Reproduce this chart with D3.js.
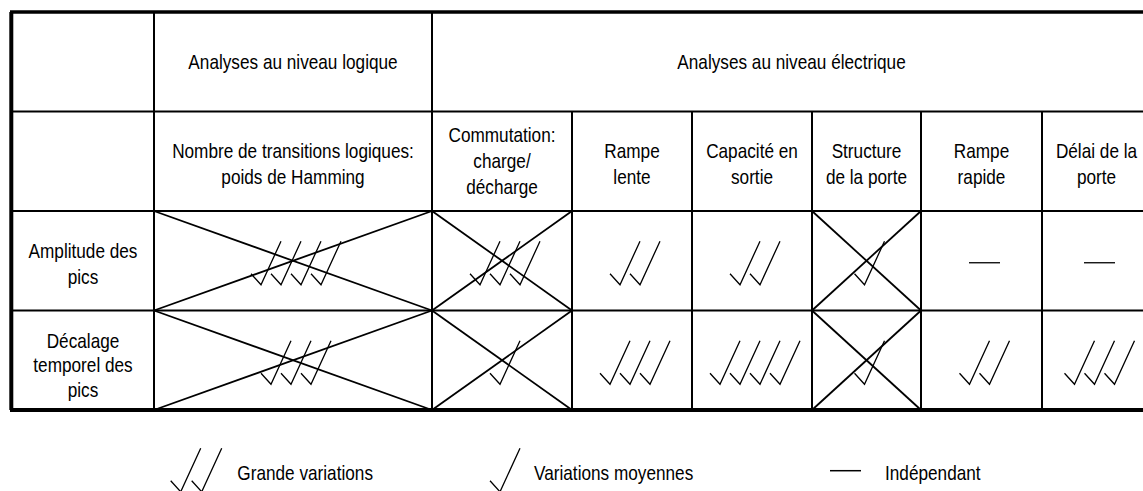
<!DOCTYPE html>
<html><head><meta charset="utf-8">
<script src="https://cdn.jsdelivr.net/npm/d3@7"></script>
<style>html,body{margin:0;padding:0;background:#fff;overflow:hidden}</style>
</head><body><svg id="c" width="1143" height="491"></svg>
<script>
// ---------- data ----------
const groupLabels = ["Analyses au niveau logique", "Analyses au niveau électrique"];
const columnLabels = [
  "Nombre de transitions logiques:\npoids de Hamming",
  "Commutation:\ncharge/\ndécharge",
  "Rampe\nlente",
  "Capacité en\nsortie",
  "Structure\nde la porte",
  "Rampe\nrapide",
  "Délai de la\nporte"
];
const columnGroup = [0, 1, 1, 1, 1, 1, 1];
const rowLabels = ["Amplitude des\npics", "Décalage\ntemporel des\npics"];
// number of check marks per cell (0 = independent, drawn as a dash)
const amplitudeChecks = [4, 3, 2, 2, 1, 0, 0];
const decalageChecks  = [3, 1, 3, 4, 1, 2, 3];
const crossedOut      = [true, true, false, false, true, false, false];
const legendLabels = ["Grande variations", "Variations moyennes", "Indépendant"];
const legendChecks = [2, 1, 0];

// ---------- layout ----------
const W = 1143, H = 491;
const colWidths = [278, 140, 120, 120, 109, 121, 109];
const tableLeft = 12, firstColRight = 154, tableRight = 1151, tableTop = 12, tableBottom = 410;
const FS = 20, SX = 0.86;

const svg = d3.select("#c");
svg.append("rect").attr("width", W).attr("height", H).attr("fill", "#fff");

const edges = d3.cumsum([0, ...colWidths]);
const x = d3.scaleLinear().domain([0, edges[edges.length - 1]]).range([firstColRight, tableRight]);
const colX0 = i => x(edges[i]);
const colX1 = i => x(edges[i + 1]);
const colCx = i => (colX0(i) + colX1(i)) / 2;

const y = d3.scaleBand().domain(["group", "column", ...rowLabels]).range([tableTop, tableBottom]).padding(0);
const bw = y.bandwidth();

const cellValues = [amplitudeChecks, decalageChecks];

function label(g, text, cx, cy, lh, off, anchor) {
  const lines = text.split("\n");
  const n = lines.length;
  const grp = g.append("g");
  lines.forEach((t, i) => {
    const by = cy + off + (i - (n - 1) / 2) * lh;
    grp.append("text")
      .attr("transform", `translate(${cx},${by}) scale(${SX},1)`)
      .attr("text-anchor", anchor || "middle")
      .attr("font-family", "'Liberation Sans', Arial, Helvetica, sans-serif")
      .attr("font-size", FS)
      .attr("fill", "#000")
      .text(t);
  });
}

function checkPath(x0, cy) {
  const p = d3.path();
  p.moveTo(x0, cy + 13);
  p.lineTo(x0 + 10, cy + 24);
  p.lineTo(x0 + 30, cy - 19.5);
  return p.toString();
}

function drawChecks(g, n, cx, cy, spacing) {
  const w = 30 + (n - 1) * spacing;
  const start = cx - w / 2;
  d3.range(n).forEach(k => {
    g.append("path").attr("d", checkPath(start + k * spacing, cy))
      .attr("fill", "none").attr("stroke", "#000").attr("stroke-width", 1.3)
      .attr("stroke-linejoin", "miter");
  });
}

const marks = svg.append("g");
// crosses
rowLabels.forEach((r, ri) => {
  const y0 = y(r), y1 = y(r) + bw;
  columnLabels.forEach((c, ci) => {
    if (crossedOut[ci]) {
      const x0 = colX0(ci), x1 = colX1(ci);
      marks.append("line").attr("x1", x0).attr("y1", y0).attr("x2", x1).attr("y2", y1)
        .attr("stroke", "#000").attr("stroke-width", 1.8);
      marks.append("line").attr("x1", x0).attr("y1", y1).attr("x2", x1).attr("y2", y0)
        .attr("stroke", "#000").attr("stroke-width", 1.8);
    }
  });
});
// checks / dashes
rowLabels.forEach((r, ri) => {
  const cy = y(r) + bw / 2;
  cellValues[ri].forEach((v, ci) => {
    const cx = colCx(ci) + 3;
    if (v > 0) {
      drawChecks(marks, v, cx, cy, 20);
    } else {
      marks.append("line").attr("x1", cx - 15.5).attr("x2", cx + 15.5)
        .attr("y1", cy + 2).attr("y2", cy + 2)
        .attr("stroke", "#000").attr("stroke-width", 1.3);
    }
  });
});

// grid
const grid = svg.append("g").attr("stroke", "#000").attr("stroke-width", 2);
// horizontal inner lines
[y("column"), y(rowLabels[0]), y(rowLabels[1])].forEach(yy => {
  grid.append("line").attr("x1", tableLeft).attr("x2", tableRight).attr("y1", yy).attr("y2", yy);
});
// vertical lines
grid.append("line").attr("x1", firstColRight).attr("x2", firstColRight).attr("y1", tableTop).attr("y2", tableBottom);
columnLabels.forEach((c, ci) => {
  if (ci === 0) return;
  const xx = colX0(ci);
  const full = columnGroup[ci] !== columnGroup[ci - 1];
  grid.append("line").attr("x1", xx).attr("x2", xx)
    .attr("y1", full ? tableTop : y("column")).attr("y2", tableBottom);
});
grid.append("line").attr("x1", tableRight).attr("x2", tableRight).attr("y1", tableTop).attr("y2", tableBottom);
// outer border
const border = svg.append("g").attr("stroke", "#000");
border.append("line").attr("x1", tableLeft - 2).attr("x2", tableRight + 2).attr("y1", tableTop).attr("y2", tableTop).attr("stroke-width", 3.5);
border.append("line").attr("x1", tableLeft - 2).attr("x2", tableRight + 2).attr("y1", tableBottom).attr("y2", tableBottom).attr("stroke-width", 4);
border.append("line").attr("x1", tableLeft - 0.7).attr("x2", tableLeft - 0.7).attr("y1", tableTop).attr("y2", tableBottom).attr("stroke-width", 4);
border.append("line").attr("x1", tableRight).attr("x2", tableRight).attr("y1", tableTop).attr("y2", tableBottom).attr("stroke-width", 4);

// texts
const texts = svg.append("g");
groupLabels.forEach((gl, gi) => {
  const idx = columnGroup.map((g, i) => g === gi ? i : -1).filter(i => i >= 0);
  const gx0 = colX0(idx[0]), gx1 = colX1(idx[idx.length - 1]);
  label(texts, gl, (gx0 + gx1) / 2, y("group") + bw / 2, 26, 7);
});
columnLabels.forEach((cl, ci) => {
  const n = cl.split("\n").length;
  label(texts, cl, colCx(ci), y("column") + bw / 2, 26, n === 3 ? 7 : 10);
});
rowLabels.forEach((rl, ri) => {
  const n = rl.split("\n").length;
  label(texts, rl, (tableLeft + firstColRight) / 2, y(rl) + bw / 2, n === 3 ? 24.5 : 26.5, n === 3 ? 12 : 10);
});

// legend
const legendSymX = [170.7, 490, 830];
const legendTextX = [237.3, 534, 885];
const legendCy = 467.8;
const lg = svg.append("g");
legendLabels.forEach((l, i) => {
  const n = legendChecks[i];
  if (n > 0) {
    d3.range(n).forEach(k => {
      lg.append("path").attr("d", checkPath(legendSymX[i] + k * 21, legendCy))
        .attr("fill", "none").attr("stroke", "#000").attr("stroke-width", 1.3);
    });
  } else {
    lg.append("line").attr("x1", legendSymX[i]).attr("x2", legendSymX[i] + 31)
      .attr("y1", 470.7).attr("y2", 470.7).attr("stroke", "#000").attr("stroke-width", 1.5);
  }
  label(lg, l, legendTextX[i], 480, 26, 0, "start");
});
</script>
</body></html>
